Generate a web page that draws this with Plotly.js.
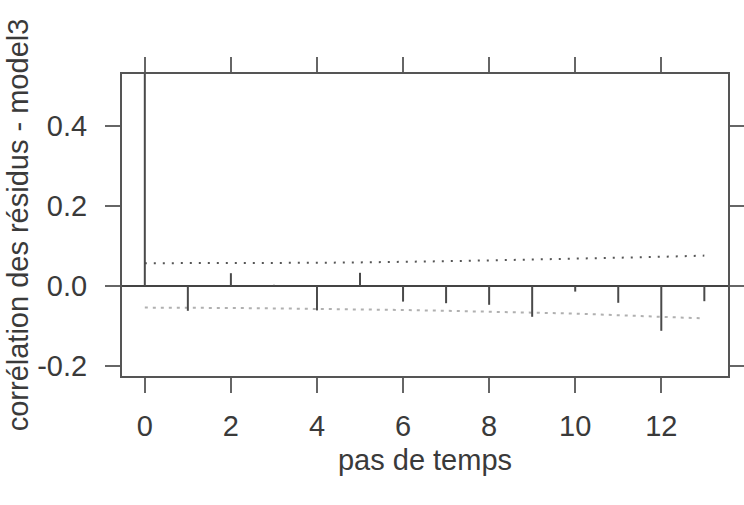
<!DOCTYPE html>
<html>
<head>
<meta charset="utf-8">
<script src="https://cdn.plot.ly/plotly-3.0.1.min.js"></script>
<style>html,body{margin:0;padding:0;background:#fff;}</style>
</head>
<body>
<div id="chart" style="width:744px;height:505px;"></div>
<script>
// Data
const lags = [0, 1, 2, 3, 4, 5, 6, 7, 8, 9, 10, 11, 12, 13];
const acf = [1.0, -0.062, 0.032, 0.003, -0.061, 0.033, -0.039, -0.043, -0.047, -0.077, -0.014, -0.042, -0.112, -0.038];
const upperBand = [0.057, 0.057, 0.057, 0.057, 0.058, 0.059, 0.060, 0.062, 0.064, 0.066, 0.068, 0.071, 0.073, 0.076];
const lowerBand = [-0.054, -0.054, -0.055, -0.056, -0.057, -0.058, -0.060, -0.062, -0.064, -0.066, -0.069, -0.073, -0.077, -0.081];
const xTicks = [0, 2, 4, 6, 8, 10, 12];
const yTicks = [-0.2, 0.0, 0.2, 0.4];
const yTickText = ['-0.2', '0.0', '0.2', '0.4'];

const barX = [], barY = [];
lags.forEach((l, i) => { barX.push(l, l, null); barY.push(0, acf[i], null); });

const font = 'Liberation Sans, Arial, sans-serif';
const fs = 29;
const txt = '#3a3a3a';
const traces = [
  {x: lags, y: upperBand, mode: 'lines', line: {color: '#555', width: 2, dash: '2px,7px'}, hoverinfo: 'skip'},
  {x: lags, y: lowerBand, mode: 'lines', line: {color: '#b0b0b0', width: 2, dash: '3px,5px'}, hoverinfo: 'skip'},
  {x: barX, y: barY, mode: 'lines', line: {color: '#4a4a4a', width: 2}, hoverinfo: 'skip'}
];

const layout = {
  width: 744, height: 505,
  margin: {l: 122, r: 16, t: 74, b: 129},
  paper_bgcolor: '#fff', plot_bgcolor: '#fff',
  showlegend: false,
  font: {family: font, size: fs, color: txt},
  xaxis: {
    range: [-0.53, 13.55], tickvals: xTicks, ticks: 'outside', ticklen: 15, tickwidth: 2, tickcolor: '#666',
    showline: true, linewidth: 2, linecolor: '#555', mirror: 'ticks', showgrid: false, zeroline: false,
    ticklabelstandoff: 8,
    tickfont: {family: font, size: fs, color: txt},
    title: {text: 'pas de temps', font: {family: font, size: fs, color: txt}, standoff: 9}
  },
  yaxis: {
    range: [-0.225, 0.53], tickvals: yTicks, ticktext: yTickText, ticks: 'outside', ticklen: 15, tickwidth: 2, tickcolor: '#666',
    showline: true, linewidth: 2, linecolor: '#555', mirror: 'ticks', showgrid: false,
    zeroline: true, zerolinecolor: '#444', zerolinewidth: 2,
    ticklabelstandoff: 12,
    tickfont: {family: font, size: fs, color: txt},
    title: {text: 'corrélation des résidus - model3', font: {family: font, size: fs, color: txt}, standoff: 0}
  }
};

Plotly.newPlot('chart', traces, layout, {staticPlot: true, displayModeBar: false});
</script>
</body>
</html>
